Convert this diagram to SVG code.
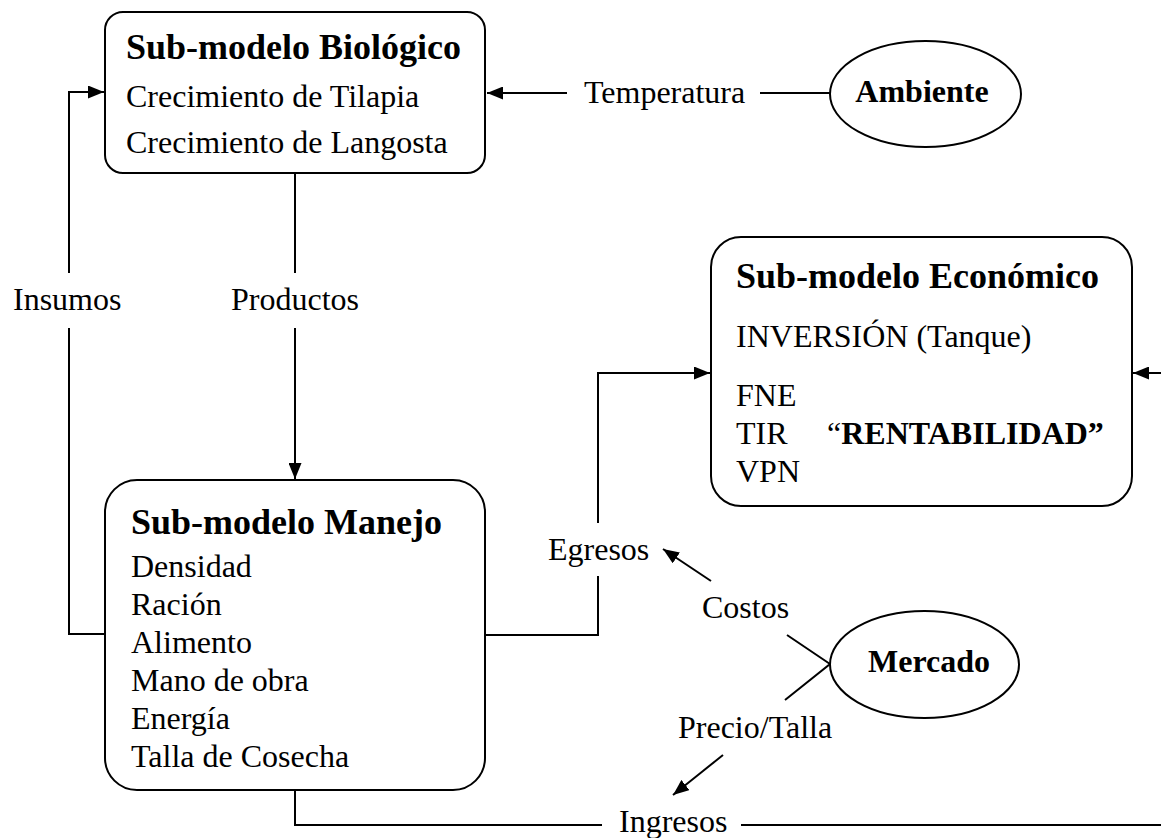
<svg xmlns="http://www.w3.org/2000/svg" width="1161" height="838" viewBox="0 0 1161 838">
<style>
text{font-family:"Liberation Serif","Times New Roman",serif;fill:#000}
.t{font-size:36px;font-weight:bold}
.b{font-size:32px}
.bb{font-size:32px;font-weight:bold}
.box{fill:#fff;stroke:#000;stroke-width:2}
.ln{fill:none;stroke:#000;stroke-width:2}
</style>
<defs>
<marker id="ah" markerUnits="userSpaceOnUse" markerWidth="17" markerHeight="13" refX="16" refY="6.5" orient="auto">
<path d="M0,0 L16,6.5 L0,13 z" fill="#000"/>
</marker>
</defs>
<rect width="1161" height="838" fill="#fff"/>
<g id="connectors">
<path class="ln" d="M567,93 H487" marker-end="url(#ah)"/>
<path class="ln" d="M760,93 H830"/>
<path class="ln" d="M105,634 H69 V328"/>
<path class="ln" d="M69,273 V92 H104" marker-end="url(#ah)"/>
<path class="ln" d="M295,173 V273"/>
<path class="ln" d="M295,328 V479" marker-end="url(#ah)"/>
<path class="ln" d="M485,635 H598 V576"/>
<path class="ln" d="M598,523 V373 H710" marker-end="url(#ah)"/>
<path class="ln" d="M1161,373 H1133" marker-end="url(#ah)"/>
<path class="ln" d="M295,790 V825 H602"/>
<path class="ln" d="M741,825 H1161"/>
<path class="ln" d="M711,581 L663,549" marker-end="url(#ah)"/>
<path class="ln" d="M787,635 L830,664 L785,700"/>
<path class="ln" d="M723,755 L673,795" marker-end="url(#ah)"/>
</g>
<g id="labels">
<text class="b" x="584" y="103">Temperatura</text>
<text class="b" x="13" y="310">Insumos</text>
<text class="b" x="295" y="310" text-anchor="middle">Productos</text>
<text class="b" x="548" y="560">Egresos</text>
<text class="b" x="702" y="618">Costos</text>
<text class="b" x="678" y="738">Precio/Talla</text>
<text class="b" x="619" y="832">Ingresos</text>
</g>
<g id="biologico">
<rect class="box" x="105" y="12" width="380" height="161" rx="18"/>
<text class="t" x="126" y="59">Sub-modelo Biológico</text>
<text class="b" x="126" y="107">Crecimiento de Tilapia</text>
<text class="b" x="126" y="153">Crecimiento de Langosta</text>
</g>
<g id="manejo">
<rect class="box" x="105" y="480" width="380" height="310" rx="32"/>
<text class="t" x="131" y="534">Sub-modelo Manejo</text>
<text class="b" x="131" y="577">Densidad</text>
<text class="b" x="131" y="615">Ración</text>
<text class="b" x="131" y="653">Alimento</text>
<text class="b" x="131" y="691">Mano de obra</text>
<text class="b" x="131" y="729">Energía</text>
<text class="b" x="131" y="767">Talla de Cosecha</text>
</g>
<g id="economico">
<rect class="box" x="711" y="237" width="421" height="269" rx="30"/>
<text class="t" x="736" y="288">Sub-modelo Económico</text>
<text class="b" x="736" y="347">INVERSIÓN (Tanque)</text>
<text class="b" x="736" y="406">FNE</text>
<text class="b" x="736" y="444">TIR</text>
<text class="b" x="827" y="444">“<tspan font-weight="bold">RENTABILIDAD”</tspan></text>
<text class="b" x="736" y="482">VPN</text>
</g>
<g id="ambiente">
<ellipse class="box" cx="925.5" cy="94" rx="95.5" ry="53"/>
<text class="bb" x="922" y="102" text-anchor="middle">Ambiente</text>
</g>
<g id="mercado">
<ellipse class="box" cx="924.5" cy="664.5" rx="94.5" ry="53.5"/>
<text class="bb" x="929" y="672" text-anchor="middle">Mercado</text>
</g>
</svg>
